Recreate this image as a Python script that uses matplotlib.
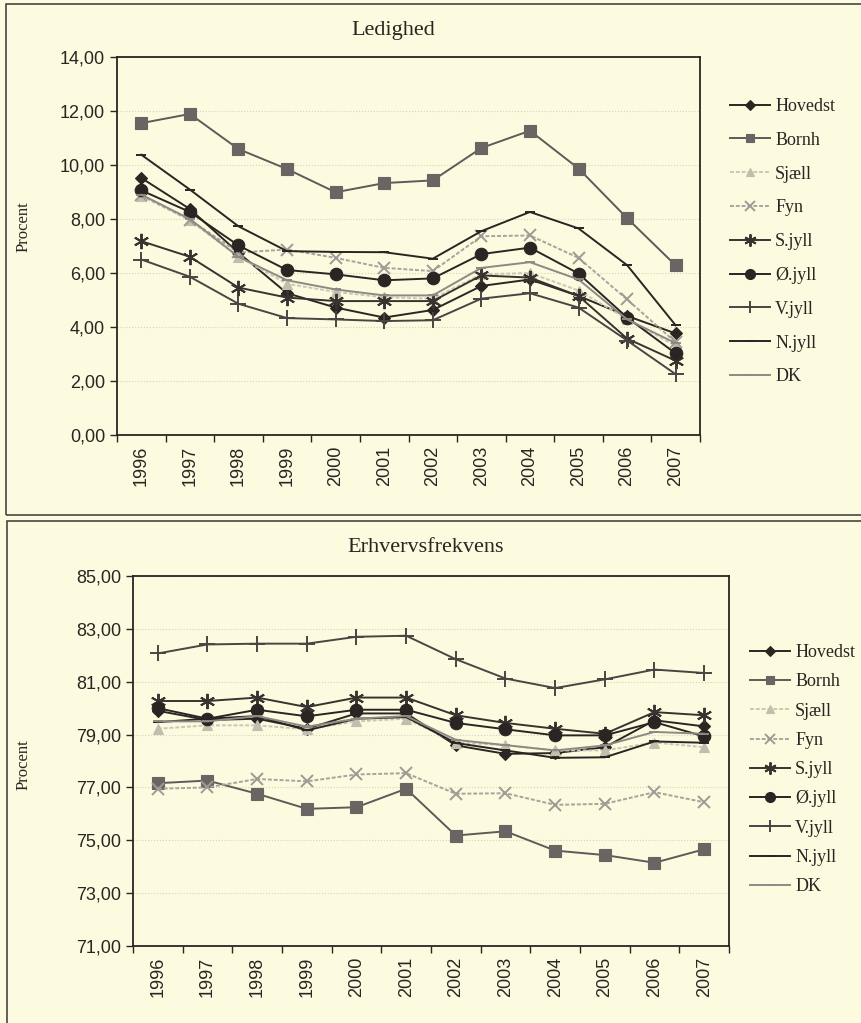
import numpy as np
import matplotlib
matplotlib.use("Agg")
import matplotlib.pyplot as plt
from matplotlib.patches import Rectangle

# Data
years = ['1996', '1997', '1998', '1999', '2000', '2001', '2002', '2003', '2004', '2005', '2006', '2007']
regions = ['Hovedst', 'Bornh', 'Sjæll', 'Fyn', 'S.jyll', 'Ø.jyll', 'V.jyll', 'N.jyll', 'DK']

ledighed_hovedst = [9.52, 8.37, 6.75, 5.25, 4.72, 4.35, 4.63, 5.52, 5.76, 5.15, 4.41, 3.76]
ledighed_bornh = [11.55, 11.89, 10.59, 9.85, 8.99, 9.33, 9.43, 10.63, 11.27, 9.87, 8.03, 6.28]
ledighed_sjaell = [8.85, 7.95, 6.60, 5.60, 5.30, 5.10, 5.05, 5.95, 6.00, 5.35, 4.30, 3.30]
ledighed_fyn = [8.90, 7.97, 6.76, 6.87, 6.56, 6.19, 6.07, 7.36, 7.39, 6.56, 5.02, 3.43]
ledighed_sjyll = [7.18, 6.60, 5.46, 5.09, 4.96, 4.96, 4.96, 5.91, 5.83, 5.15, 3.57, 2.75]
ledighed_ojyll = [9.06, 8.26, 7.02, 6.11, 5.95, 5.73, 5.80, 6.70, 6.94, 5.98, 4.35, 3.02]
ledighed_vjyll = [6.50, 5.86, 4.86, 4.33, 4.28, 4.22, 4.25, 5.05, 5.25, 4.72, 3.50, 2.25]
ledighed_njyll = [10.38, 9.09, 7.73, 6.81, 6.78, 6.77, 6.53, 7.55, 8.26, 7.65, 6.29, 4.06]
ledighed_dk = [8.90, 8.00, 6.60, 5.73, 5.39, 5.17, 5.17, 6.19, 6.40, 5.76, 4.28, 3.40]

erhverv_hovedst = [79.90, 79.55, 79.60, 79.22, 79.80, 79.80, 78.59, 78.27, 78.30, 78.52, 79.54, 79.31]
erhverv_bornh = [77.16, 77.26, 76.76, 76.19, 76.25, 76.95, 75.18, 75.34, 74.61, 74.44, 74.15, 74.66]
erhverv_sjaell = [79.22, 79.35, 79.35, 79.20, 79.50, 79.60, 78.70, 78.60, 78.40, 78.40, 78.70, 78.52]
erhverv_fyn = [76.95, 77.00, 77.32, 77.23, 77.49, 77.54, 76.76, 76.78, 76.34, 76.38, 76.82, 76.44]
erhverv_sjyll = [80.27, 80.27, 80.40, 80.04, 80.40, 80.40, 79.73, 79.44, 79.22, 79.03, 79.85, 79.73]
erhverv_ojyll = [80.00, 79.60, 79.94, 79.69, 79.94, 79.94, 79.44, 79.20, 78.97, 78.97, 79.47, 78.93]
erhverv_vjyll = [82.07, 82.41, 82.44, 82.44, 82.70, 82.74, 81.85, 81.12, 80.76, 81.09, 81.46, 81.33]
erhverv_njyll = [79.47, 79.60, 79.70, 79.16, 79.60, 79.66, 78.68, 78.40, 78.12, 78.14, 78.74, 78.69]
erhverv_dk = [79.50, 79.50, 79.70, 79.30, 79.60, 79.70, 78.80, 78.60, 78.40, 78.59, 79.10, 79.03]

ledighed = [ledighed_hovedst, ledighed_bornh, ledighed_sjaell, ledighed_fyn, ledighed_sjyll,
            ledighed_ojyll, ledighed_vjyll, ledighed_njyll, ledighed_dk]
erhverv = [erhverv_hovedst, erhverv_bornh, erhverv_sjaell, erhverv_fyn, erhverv_sjyll,
           erhverv_ojyll, erhverv_vjyll, erhverv_njyll, erhverv_dk]

# Styles (line colour, marker, marker size, marker colour)
styles = [
    ('#2b2622', 'D', 6, '#2b2622'),
    ('#5e5a58', 's', 8, '#6a6563'),
    ('#cdc6b4', '^', 7, '#c4bcac'),
    ('#a8a39c', 'x', 9, '#a09a94'),
    ('#38332f', (6, 2, 0), 11, '#38332f'),
    ('#2a2523', 'o', 9, '#2a2523'),
    ('#4a4542', '+', 11, '#4a4542'),
    ('#2a2523', '_', 7, '#2a2523'),
    ('#8f8984', '_', 7, '#8f8984'),
]

bg = '#fcfadf'
W, H = 862, 1023
fig = plt.figure(figsize=(W / 100, H / 100), dpi=100, facecolor=bg)

# panel frames
fig.patches.append(Rectangle((6 / W, 1 - 515 / H), 900 / W, 511 / H, transform=fig.transFigure,
                             fill=False, edgecolor='#4a4440', linewidth=1.2))
fig.patches.append(Rectangle((7 / W, -0.05), 900 / W, (1023 - 521) / H + 0.05, transform=fig.transFigure,
                             fill=False, edgecolor='#4a4440', linewidth=1.2))


def make_panel(rect, data, ylim, title, title_xy, legend_xy, spacing, ylab_y):
    ax = fig.add_axes(rect, facecolor=bg)
    x = np.arange(len(years))
    handles = []
    for vals, name, (lc, mk, ms, mc) in zip(data, regions, styles):
        # Sjæll og Fyn er tegnet med tæt prikket linje
        ls = (0, (2, 1)) if name in ('Sjæll', 'Fyn') else '-'
        h, = ax.plot(x, vals, color=lc, linestyle=ls, linewidth=1.4, marker=mk, markersize=ms,
                     markerfacecolor=mc, markeredgecolor=mc,
                     markeredgewidth=1.4 if mk not in ('D', 's', 'o', '^') else 0.8,
                     label=name, zorder=3)
        handles.append(h)
    ax.set_xlim(-0.5, len(years) - 0.5)
    ax.set_ylim(*ylim)
    yt = np.arange(ylim[0], ylim[1] + 0.01, 2)
    ax.set_yticks(yt)
    ax.set_yticklabels([f'{v:.2f}'.replace('.', ',') for v in yt],
                       fontsize=13, family='Liberation Sans', color='#2a2523')
    ax.set_xticks(np.arange(-0.5, len(years), 1))
    ax.set_xticklabels([])
    ax.set_xticks(x, minor=True)
    ax.set_xticklabels(years, minor=True, rotation=90, fontsize=13, family='Liberation Sans', color='#2a2523')
    ax.tick_params(axis='x', which='minor', length=0, pad=8)
    ax.tick_params(axis='both', which='major', direction='out', length=5, color='#2a2523', width=1)
    ax.grid(axis='y', linestyle=':', color='#d8d2b8', linewidth=0.8, zorder=0)
    for s in ax.spines.values():
        s.set_color('#2a2523')
        s.set_linewidth(1.3)
    ax.set_ylabel('Procent', family='Liberation Serif', fontsize=12, color='#2a2523')
    ax.yaxis.set_label_coords((32 - rect[0] * W) / (rect[2] * W), ylab_y)
    fig.text(title_xy[0] / W, 1 - title_xy[1] / H, title, family='Liberation Serif', fontsize=16,
             color='#2a2523', ha='center', va='center')
    fig.legend(handles=handles, loc='upper left', bbox_to_anchor=(legend_xy[0] / W, 1 - legend_xy[1] / H),
               frameon=False, prop={'family': 'Liberation Serif', 'size': 13}, labelspacing=spacing,
               handlelength=2.2, handletextpad=0.3, borderpad=0, borderaxespad=0, markerscale=0.8,
               labelcolor='#2a2523')
    return ax


make_panel([117 / W, 1 - 435 / H, 583 / W, 378 / H], ledighed, (0, 14), 'Ledighed',
           (393, 30), (730, 98), 0.93, 0.55)
make_panel([133 / W, 1 - 946 / H, 596 / W, 370 / H], erhverv, (71, 85), 'Erhvervsfrekvens',
           (426, 548), (750, 644), 0.68, 0.49)

fig.savefig('out.png', dpi=100, facecolor=bg)
